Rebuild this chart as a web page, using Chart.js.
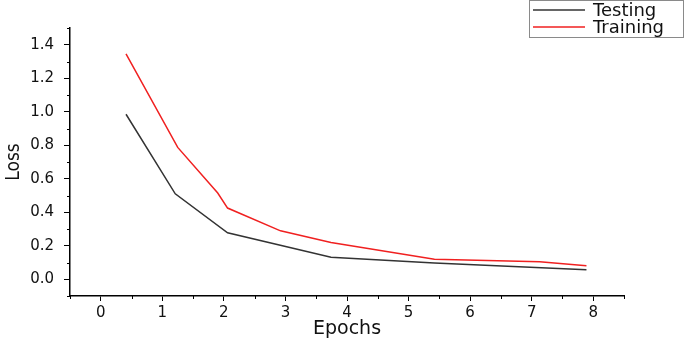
<!DOCTYPE html>
<html>
<head>
<meta charset="utf-8">
<script src="https://cdn.jsdelivr.net/npm/chart.js@4"></script>
<style>
  body { margin: 0; background: #fff; }
  canvas { display: block; }
</style>
</head>
<body>
<canvas id="lossChart" width="685" height="340"></canvas>
<script>
// values
const seriesNames = ['Testing', 'Training'];
const testingEpochs = [0.41, 1.21, 2.06, 3.74, 5.42, 7.89];
const testingLoss = [0.985, 0.51, 0.277, 0.131, 0.097, 0.056];
const trainingEpochs = [0.41, 1.25, 1.9, 2.06, 2.92, 3.74, 5.42, 7.13, 7.89];
const trainingLoss = [1.345, 0.787, 0.515, 0.425, 0.289, 0.22, 0.12, 0.105, 0.081];

// tick labels
const epochTicks = [0, 1, 2, 3, 4, 5, 6, 7, 8];
const lossTicks = [0.0, 0.2, 0.4, 0.6, 0.8, 1.0, 1.2, 1.4];

const toPoints = (xs, ys) => xs.map((x, i) => ({ x: x, y: ys[i] }));

// short minor ticks, placed with the chart's own scales
const minorTicks = {
  id: 'minorTicks',
  afterDraw(chart) {
    const ctx = chart.ctx;
    const xs = chart.scales.x;
    const ys = chart.scales.y;
    ctx.save();
    ctx.strokeStyle = '#000';
    ctx.lineWidth = 1;
    ctx.beginPath();
    for (let i = -1; i <= 17; i += 2) {
      const px = Math.round(xs.getPixelForValue(i / 2)) + 0.5;
      ctx.moveTo(px, xs.top);
      ctx.lineTo(px, xs.top + 3);
    }
    for (let i = -1; i <= 15; i += 2) {
      const py = Math.round(ys.getPixelForValue(i / 10)) + 0.5;
      ctx.moveTo(ys.right, py);
      ctx.lineTo(ys.right - 3, py);
    }
    ctx.stroke();
    ctx.restore();
  }
};

// boxed legend in the top right corner
const boxLegend = {
  id: 'boxLegend',
  afterDraw(chart) {
    const ctx = chart.ctx;
    ctx.save();
    ctx.strokeStyle = '#8a8a8a';
    ctx.lineWidth = 1;
    ctx.strokeRect(529.5, 0.5, 154, 37);
    ctx.font = '18px "DejaVu Sans", sans-serif';
    ctx.textBaseline = 'middle';
    ctx.fillStyle = '#111';
    chart.data.datasets.forEach((ds, i) => {
      const y = 10 + i * 17;
      ctx.strokeStyle = ds.borderColor;
      ctx.lineWidth = 1.5;
      ctx.beginPath();
      ctx.moveTo(533, y);
      ctx.lineTo(585, y);
      ctx.stroke();
      ctx.fillText(ds.label, 593, y + 1);
    });
    ctx.restore();
  }
};

const ctx = document.getElementById('lossChart').getContext('2d');

const chart = new Chart(ctx, {
  type: 'line',
  data: {
    datasets: [
      {
        label: seriesNames[0],
        data: toPoints(testingEpochs, testingLoss),
        borderColor: '#333333',
        borderWidth: 1.5,
        pointRadius: 0,
        tension: 0,
        fill: false
      },
      {
        label: seriesNames[1],
        data: toPoints(trainingEpochs, trainingLoss),
        borderColor: '#f02020',
        borderWidth: 1.5,
        pointRadius: 0,
        tension: 0,
        fill: false
      }
    ]
  },
  options: {
    responsive: false,
    animation: false,
    layout: {
      padding: { left: 0, right: 61, top: 28, bottom: 0 }
    },
    plugins: {
      legend: { display: false },
      tooltip: { enabled: false }
    },
    scales: {
      x: {
        type: 'linear',
        min: -0.5,
        max: 8.5,
        afterBuildTicks: (scale) => { scale.ticks = epochTicks.map(v => ({ value: v })); },
        afterFit: (scale) => { scale.height = 44; },
        border: { color: '#000', width: 1.5 },
        grid: { drawOnChartArea: false, tickLength: 5, tickColor: '#000' },
        ticks: {
          padding: 3,
          color: '#111',
          font: { family: '"DejaVu Sans", sans-serif', size: 15 },
          callback: (v) => String(v)
        },
        title: {
          display: true,
          text: 'Epochs',
          color: '#111',
          padding: { top: 0, bottom: 0 },
          font: { family: '"DejaVu Sans", sans-serif', size: 19 }
        }
      },
      y: {
        min: -0.1,
        max: 1.5,
        afterBuildTicks: (scale) => { scale.ticks = lossTicks.map(v => ({ value: v })); },
        afterFit: (scale) => { scale.width = 70; },
        border: { color: '#000', width: 1.5 },
        grid: { drawOnChartArea: false, tickLength: 6, tickColor: '#000' },
        ticks: {
          padding: 10,
          color: '#111',
          font: { family: '"DejaVu Sans", sans-serif', size: 15 },
          callback: (v) => Number(v).toFixed(1)
        },
        title: {
          display: true,
          text: 'Loss',
          color: '#111',
          padding: { top: 3, bottom: 0 },
          font: { family: '"Liberation Sans Narrow", "DejaVu Sans Condensed", "Liberation Sans", sans-serif', size: 19 }
        }
      }
    }
  },
  plugins: [minorTicks, boxLegend]
});
</script>
</body>
</html>
